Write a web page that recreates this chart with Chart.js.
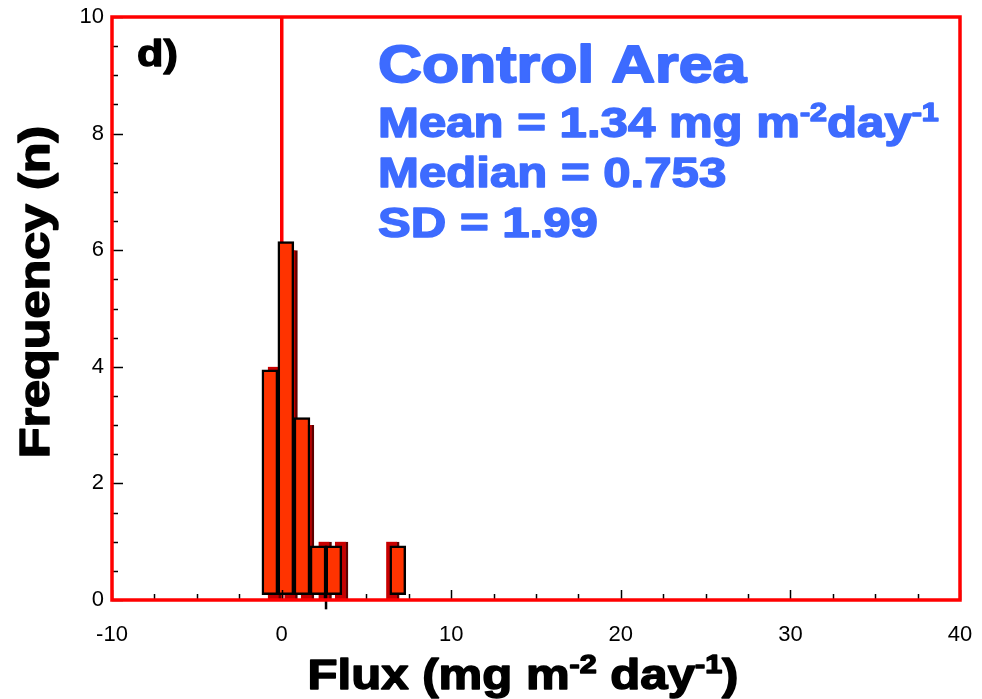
<!DOCTYPE html>
<html>
<head>
<meta charset="utf-8">
<title>Control Area flux histogram</title>
<script src="https://cdn.jsdelivr.net/npm/chart.js@4.4.1/dist/chart.umd.min.js"></script>
<style>
  html, body { margin: 0; padding: 0; background: #fff; }
  #wrap { width: 982px; height: 699px; }
</style>
</head>
<body>
<div id="wrap"><canvas id="fluxChart" width="982" height="699"></canvas></div>
<script>
// histogram bins (front bars and their dark offset copies)
const frontCenters = [-0.69, 0.25, 1.20, 2.15, 3.08, 6.85];
const frontCounts  = [3.95, 6.15, 3.13, 0.93, 0.93, 0.93];
const shadowCenters = [-0.43, 0.55, 1.52, 2.56, 3.53, 6.55];
const shadowCounts  = [4, 6, 3, 1, 1, 1];

// stray divider that runs below the axis
const dividerX = [2.62, 2.62];
const dividerY = [-0.16, 0.93];

// axes
const xRange = [-10, 40];
const yRange = [0, 10];
const xMinorStep = 2.5, xMajorStep = 10;
const yMinorStep = 0.5, yMajorStep = 2;

// summary stats
const statsTitle = 'Control Area';
const statMean = 1.34;
const statMedian = 0.753;
const statSD = 1.99;
const panelLabel = 'd)';

const RED = '#ff0000';
const BLUE = '#3d6bff';
const BOLD = 'Liberation Sans, Arial, sans-serif';
const STRETCH = 1.17;

Chart.defaults.font.family = BOLD;
Chart.defaults.color = '#000';

// draws a run of text pieces, some raised as superscripts, stretched sideways
function richText(ctx, parts, x, y, size, color, align) {
  ctx.save();
  ctx.fillStyle = color;
  ctx.strokeStyle = color;
  ctx.lineWidth = size * 0.035;
  ctx.lineJoin = 'round';
  ctx.textBaseline = 'alphabetic';
  ctx.textAlign = 'left';
  const widths = parts.map(p => {
    ctx.font = 'bold ' + (p.sup ? size * 0.62 : size) + 'px ' + BOLD;
    return ctx.measureText(p.t).width;
  });
  const total = widths.reduce((a, b) => a + b, 0);
  ctx.translate(x, y);
  ctx.scale(STRETCH, 1);
  let cx = align === 'center' ? -total / 2 : 0;
  parts.forEach((p, i) => {
    ctx.font = 'bold ' + (p.sup ? size * 0.62 : size) + 'px ' + BOLD;
    const dy = p.sup ? -size * 0.38 : 0;
    ctx.fillText(p.t, cx, dy);
    ctx.strokeText(p.t, cx, dy);
    cx += widths[i];
  });
  ctx.restore();
}

const decorations = {
  id: 'decorations',
  afterDatasetsDraw(chart) {
    const { ctx, chartArea: a, scales: { x, y } } = chart;
    ctx.save();
    ctx.strokeStyle = '#000';
    ctx.lineWidth = 1.5;
    // inward tick marks on the bottom axis
    for (let v = xRange[0]; v <= xRange[1] + 1e-9; v += xMinorStep) {
      const px = Math.round(x.getPixelForValue(v)) + 0.5;
      const len = Math.abs(v % xMajorStep) < 1e-9 ? 10 : 6;
      ctx.beginPath();
      ctx.moveTo(px, a.bottom);
      ctx.lineTo(px, a.bottom - len);
      ctx.stroke();
    }
    // inward tick marks on the left axis
    for (let v = yRange[0]; v <= yRange[1] + 1e-9; v += yMinorStep) {
      const py = Math.round(y.getPixelForValue(v)) + 0.5;
      const len = Math.abs(v % yMajorStep) < 1e-9 ? 11 : 6;
      ctx.beginPath();
      ctx.moveTo(a.left, py);
      ctx.lineTo(a.left + len, py);
      ctx.stroke();
    }
    // red frame
    ctx.strokeStyle = RED;
    ctx.lineWidth = 3.5;
    ctx.strokeRect(a.left, a.top, a.right - a.left, a.bottom - a.top);
    ctx.restore();
  },
  afterDraw(chart) {
    const { ctx } = chart;
    richText(ctx, [{ t: panelLabel }], 137, 66, 37, '#000');
    richText(ctx, [{ t: statsTitle }], 378, 82, 52, BLUE);
    richText(ctx, [
      { t: 'Mean = ' + statMean.toFixed(2) + ' mg m' },
      { t: '-2', sup: true },
      { t: 'day' },
      { t: '-1', sup: true }
    ], 378, 137, 42, BLUE);
    richText(ctx, [{ t: 'Median = ' + statMedian }], 378, 187, 42, BLUE);
    richText(ctx, [{ t: 'SD = ' + statSD }], 378, 237, 42, BLUE);

    // axis titles
    richText(ctx, [
      { t: 'Flux (mg m' },
      { t: '-2', sup: true },
      { t: ' day' },
      { t: '-1', sup: true },
      { t: ')' }
    ], 523, 689, 42, '#000', 'center');
    ctx.save();
    ctx.translate(49, 292);
    ctx.rotate(-Math.PI / 2);
    richText(ctx, [{ t: 'Frequency (n)' }], 0, 0, 43, '#000', 'center');
    ctx.restore();
  }
};

const toPoints = (xs, ys) => xs.map((v, i) => ({ x: v, y: ys[i] }));

new Chart(document.getElementById('fluxChart'), {
  type: 'bar',
  data: {
    datasets: [
      {
        type: 'line',
        data: toPoints(dividerX, dividerY),
        borderColor: '#000',
        borderWidth: 2.5,
        pointRadius: 0,
        clip: false,
        order: 0
      },
      {
        data: toPoints(frontCenters, frontCounts),
        backgroundColor: '#ff3300',
        borderColor: '#000',
        borderWidth: 2.5,
        borderSkipped: false,
        barThickness: 16,
        base: 0.09,
        grouped: false,
        order: 1
      },
      {
        data: toPoints(shadowCenters, shadowCounts),
        backgroundColor: '#c80000',
        borderColor: '#5c0000',
        borderWidth: { top: 0, left: 0, bottom: 0, right: 2.5 },
        barThickness: 13,
        grouped: false,
        order: 2
      }
    ]
  },
  options: {
    responsive: false,
    animation: false,
    layout: { padding: { top: 17, right: 22, left: 0, bottom: 0 } },
    plugins: { legend: { display: false }, tooltip: { enabled: false } },
    scales: {
      x: {
        type: 'linear',
        min: xRange[0],
        max: xRange[1],
        offset: false,
        afterFit(s) { s.height = 99; s.paddingLeft = 0; s.paddingRight = 0; },
        ticks: { stepSize: xMajorStep, padding: 22, font: { size: 22 }, color: '#000' },
        grid: {
          offset: false,
          drawTicks: false,
          lineWidth: 3.5,
          color: c => (c.tick && c.tick.value === 0 ? RED : 'rgba(0,0,0,0)')
        },
        border: { display: false }
      },
      y: {
        min: yRange[0],
        max: yRange[1],
        afterFit(s) { s.width = 112; s.paddingTop = 0; s.paddingBottom = 0; },
        ticks: { stepSize: yMajorStep, padding: 8, font: { size: 22 }, color: '#000' },
        grid: { display: false, drawTicks: false },
        border: { display: false }
      }
    }
  },
  plugins: [decorations]
});
</script>
</body>
</html>
